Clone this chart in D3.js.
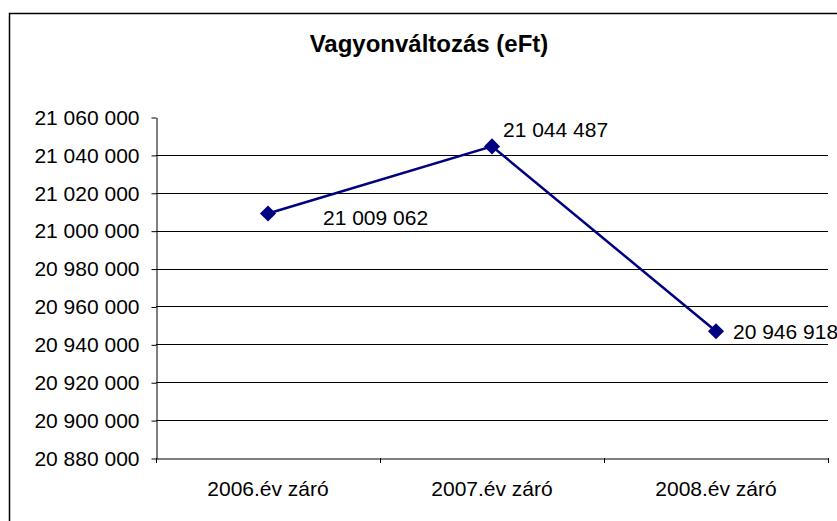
<!DOCTYPE html>
<html>
<head>
<meta charset="utf-8">
<script src="https://cdn.jsdelivr.net/npm/d3@7"></script>
<style>
  body { margin: 0; background: #fff; }
  text { font-family: Arial, "Liberation Sans", sans-serif; fill: #000; }
</style>
</head>
<body>
<svg width="837" height="521"></svg>
<script>
var categories = ["2006.év záró", "2007.év záró", "2008.év záró"];
var values = [21009062, 21044487, 20946918];
var yTicks = [20880000, 20900000, 20920000, 20940000, 20960000, 20980000, 21000000, 21020000, 21040000, 21060000];
var title = "Vagyonváltozás (eFt)";

var svg = d3.select("svg"),
	width = +svg.attr("width"),
	height = +svg.attr("height");

var margin = {left: 156, right: 9, top: 117, bottom: 63};

var fmt = function(v) { return d3.format(",")(v).replace(/,/g, " "); };

// chart border (runs off the right / bottom edge)
svg.append("rect")
	.attr("x", 9.5).attr("y", 13.5)
	.attr("width", 900).attr("height", 600)
	.attr("fill", "none").attr("stroke", "#000").attr("stroke-width", 1.5);

svg.append("text")
	.attr("x", 429).attr("y", 52)
	.attr("text-anchor", "middle")
	.style("font-size", "24px").style("font-weight", "bold")
	.text(title);

var x = d3.scaleBand()
	.domain(categories)
	.range([margin.left, width - margin.right]);

var y = d3.scaleLinear()
	.domain([yTicks[0], yTicks[yTicks.length - 1]])
	.range([height - margin.bottom, margin.top]);

// gridlines (none at the top value)
svg.append("g")
	.selectAll("line")
	.data(yTicks.slice(1, -1))
	.enter().append("line")
	.attr("x1", margin.left).attr("x2", width - margin.right)
	.attr("y1", function(d) { return Math.round(y(d)) + 0.5; })
	.attr("y2", function(d) { return Math.round(y(d)) + 0.5; })
	.attr("stroke", "#000").attr("stroke-width", 1);

var yAxis = svg.append("g")
	.attr("transform", "translate(" + (margin.left + 0.5) + ",0.5)")
	.call(d3.axisLeft(y).tickValues(yTicks).tickFormat(fmt).tickSize(5).tickPadding(12).tickSizeOuter(0));
yAxis.selectAll("text").style("font-size", "21px");
yAxis.selectAll("line, path").attr("stroke", "#000");

var xAxis = svg.append("g")
	.attr("transform", "translate(0," + (height - margin.bottom + 0.5) + ")")
	.call(d3.axisBottom(x).tickSize(0).tickPadding(23).tickSizeOuter(0));
xAxis.selectAll("text").style("font-size", "21px");
xAxis.select("path").attr("stroke", "#000");

// ticks between categories
svg.append("g")
	.selectAll("line")
	.data(d3.range(categories.length + 1))
	.enter().append("line")
	.attr("x1", function(i) { return Math.round(margin.left + i * x.step()) + 0.5; })
	.attr("x2", function(i) { return Math.round(margin.left + i * x.step()) + 0.5; })
	.attr("y1", height - margin.bottom).attr("y2", height - margin.bottom + 5)
	.attr("stroke", "#000");

var cx = function(d, i) { return x(categories[i]) + x.bandwidth() / 2; };

var line = d3.line()
	.x(function(d, i) { return cx(d, i); })
	.y(function(d) { return y(d); });

svg.append("path")
	.datum(values)
	.attr("d", line)
	.attr("fill", "none")
	.attr("stroke", "#000080")
	.attr("stroke-width", 2.5);

svg.append("g")
	.selectAll("path")
	.data(values)
	.enter().append("path")
	.attr("d", d3.symbol().type(d3.symbolSquare).size(130))
	.attr("transform", function(d, i) { return "translate(" + cx(d, i) + "," + y(d) + ") rotate(45)"; })
	.attr("fill", "#000080");

// labels were dragged around by hand in the original
var labelOffset = [[55, 4], [11, -17], [17, 0]];

svg.append("g")
	.selectAll("text")
	.data(values)
	.enter().append("text")
	.attr("x", function(d, i) { return cx(d, i) + labelOffset[i][0]; })
	.attr("y", function(d, i) { return y(d) + labelOffset[i][1]; })
	.attr("dy", "0.35em")
	.style("font-size", "21px")
	.text(fmt);
</script>
</body>
</html>
